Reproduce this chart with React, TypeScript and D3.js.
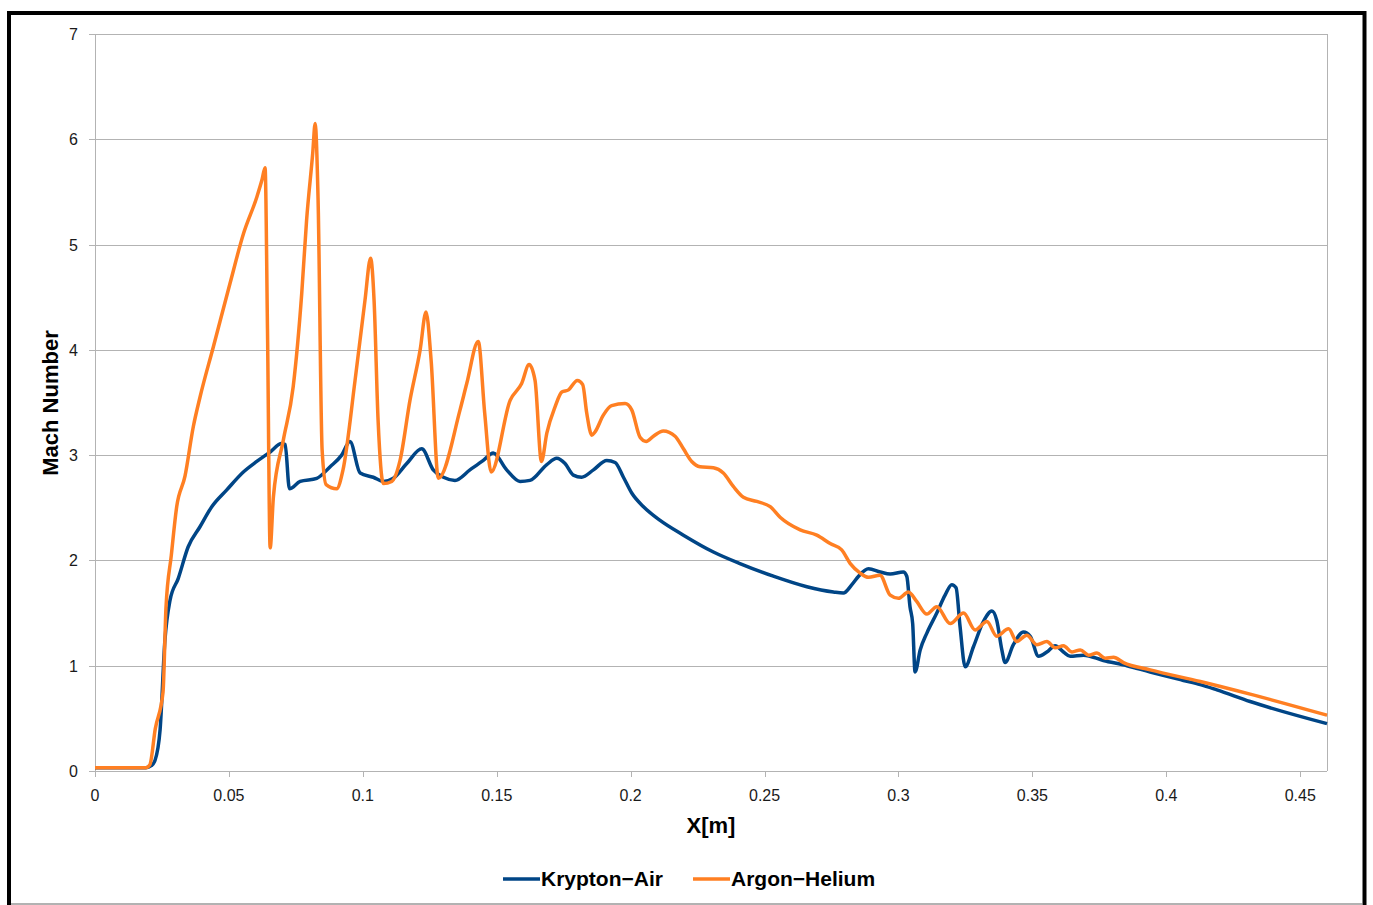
import React, { useRef, useEffect } from "react"
import * as d3 from "d3"

// x [m], Mach number
const kryptonX = [0, 0.01, 0.019, 0.021, 0.0224, 0.0243, 0.0261, 0.028, 0.0311, 0.0348, 0.0392, 0.0436, 0.0492, 0.0554, 0.0604, 0.0654, 0.0697, 0.071, 0.0726, 0.0766, 0.0828, 0.0878, 0.0921, 0.0952, 0.099, 0.1039, 0.1077, 0.1114, 0.1164, 0.122, 0.1263, 0.1301, 0.1344, 0.14, 0.145, 0.1487, 0.1537, 0.1587, 0.1624, 0.1687, 0.1724, 0.1755, 0.1786, 0.1817, 0.1861, 0.1911, 0.1942, 0.1973, 0.2004, 0.2048, 0.211, 0.2197, 0.2309, 0.2408, 0.2533, 0.2658, 0.2757, 0.2794, 0.2826, 0.2851, 0.2888, 0.2932, 0.2969, 0.3018, 0.3031, 0.3043, 0.3053, 0.3062, 0.3081, 0.3106, 0.3143, 0.3174, 0.3199, 0.3215, 0.323, 0.3249, 0.328, 0.3317, 0.3349, 0.3367, 0.3386, 0.3398, 0.3429, 0.3467, 0.3492, 0.3523, 0.3554, 0.3585, 0.3616, 0.3641, 0.3691, 0.3765, 0.3853, 0.394, 0.4064, 0.4127, 0.4189, 0.4313, 0.46]
const kryptonM = [0.03, 0.03, 0.03, 0.05, 0.1, 0.39, 1.24, 1.62, 1.83, 2.13, 2.32, 2.51, 2.67, 2.84, 2.94, 3.03, 3.11, 3.1, 2.68, 2.75, 2.78, 2.89, 3.0, 3.13, 2.83, 2.79, 2.75, 2.78, 2.92, 3.06, 2.86, 2.79, 2.76, 2.86, 2.95, 3.02, 2.86, 2.75, 2.76, 2.91, 2.97, 2.92, 2.81, 2.79, 2.86, 2.95, 2.93, 2.79, 2.64, 2.51, 2.38, 2.24, 2.08, 1.97, 1.85, 1.75, 1.7, 1.69, 1.77, 1.85, 1.92, 1.89, 1.87, 1.89, 1.85, 1.56, 1.4, 0.94, 1.15, 1.31, 1.5, 1.67, 1.77, 1.74, 1.37, 0.99, 1.18, 1.42, 1.52, 1.43, 1.15, 1.03, 1.2, 1.32, 1.28, 1.09, 1.13, 1.19, 1.13, 1.09, 1.1, 1.05, 1.0, 0.94, 0.86, 0.82, 0.77, 0.66, 0.45]

const argonX = [0, 0.01, 0.019, 0.0205, 0.0225, 0.0254, 0.0265, 0.0285, 0.0305, 0.0336, 0.0367, 0.0392, 0.0442, 0.0504, 0.0554, 0.0604, 0.0624, 0.0635, 0.0644, 0.0654, 0.0666, 0.0703, 0.074, 0.0772, 0.079, 0.0813, 0.0822, 0.0833, 0.0848, 0.0863, 0.0902, 0.0926, 0.0971, 0.1008, 0.1029, 0.1042, 0.1057, 0.1077, 0.1108, 0.1139, 0.1176, 0.1214, 0.1236, 0.1255, 0.1282, 0.1363, 0.1388, 0.1431, 0.1455, 0.1479, 0.155, 0.1593, 0.1621, 0.1643, 0.1667, 0.1687, 0.1718, 0.1743, 0.1768, 0.1801, 0.1821, 0.1836, 0.1855, 0.1867, 0.1898, 0.1929, 0.1979, 0.2004, 0.2035, 0.2058, 0.2085, 0.2122, 0.2166, 0.2197, 0.2228, 0.2259, 0.2309, 0.2346, 0.2384, 0.2421, 0.2471, 0.2521, 0.2558, 0.2633, 0.2695, 0.2745, 0.2788, 0.282, 0.2857, 0.2888, 0.2931, 0.2969, 0.3, 0.3037, 0.3068, 0.3106, 0.3143, 0.3193, 0.3243, 0.3286, 0.333, 0.3367, 0.3411, 0.3442, 0.3479, 0.3517, 0.3554, 0.3585, 0.3616, 0.3648, 0.3679, 0.371, 0.3741, 0.3772, 0.3803, 0.384, 0.394, 0.4127, 0.4313, 0.46]
const argonM = [0.03, 0.03, 0.03, 0.06, 0.4, 0.75, 1.55, 2.05, 2.51, 2.8, 3.27, 3.55, 4.03, 4.63, 5.1, 5.45, 5.62, 5.73, 4.2, 2.12, 2.6, 3.14, 3.65, 4.54, 5.23, 5.87, 6.15, 5.42, 3.05, 2.72, 2.68, 2.86, 3.71, 4.47, 4.87, 4.47, 3.33, 2.73, 2.75, 2.95, 3.52, 4.0, 4.36, 3.9, 2.78, 3.43, 3.68, 4.08, 3.4, 2.84, 3.52, 3.68, 3.86, 3.71, 2.94, 3.21, 3.46, 3.6, 3.62, 3.71, 3.67, 3.4, 3.19, 3.22, 3.38, 3.47, 3.49, 3.43, 3.17, 3.13, 3.18, 3.23, 3.18, 3.06, 2.94, 2.89, 2.88, 2.83, 2.7, 2.6, 2.56, 2.51, 2.41, 2.29, 2.24, 2.16, 2.1, 1.97, 1.88, 1.84, 1.86, 1.67, 1.64, 1.7, 1.61, 1.49, 1.56, 1.4, 1.5, 1.34, 1.42, 1.28, 1.35, 1.23, 1.29, 1.2, 1.23, 1.17, 1.19, 1.13, 1.15, 1.1, 1.12, 1.07, 1.08, 1.03, 0.96, 0.85, 0.73, 0.53]

const xTicks = [0, 0.05, 0.1, 0.15, 0.2, 0.25, 0.3, 0.35, 0.4, 0.45]
const yTicks = [0, 1, 2, 3, 4, 5, 6, 7]

const seriesNames = ["Krypton\u2212Air", "Argon\u2212Helium"]
const seriesColors = ["#004586", "#ff7f22"]

const App = () => {
    let element = useRef<SVGSVGElement>(null)

    useEffect(() => {
        let svg = d3.select(element.current)
        svg.selectAll("*").remove()

        let margin = {top: 34, left: 95, right: 46, bottom: 134}
        let width = 1373, height = 905

        let x = d3.scaleLinear().domain([0, 0.46]).range([margin.left, width - margin.right])
        let y = d3.scaleLinear().domain([0, 7]).range([height - margin.bottom, margin.top])

        // outer frame
        svg.append("rect")
            .attr("x", 9).attr("y", 13)
            .attr("width", 1355.5).attr("height", 910)
            .attr("fill", "white")
            .attr("stroke", "black")
            .attr("stroke-width", 4)
        svg.append("line")
            .attr("x1", 11).attr("x2", 1362).attr("y1", 904).attr("y2", 904)
            .attr("stroke", "#999").attr("stroke-width", 1.5)

        // horizontal grid
        svg.append("g")
            .selectAll("line")
            .data(yTicks)
            .join("line")
                .attr("x1", x(0) - 6).attr("x2", x(0.46))
                .attr("y1", d => Math.round(y(d)) + 0.5).attr("y2", d => Math.round(y(d)) + 0.5)
                .attr("stroke", "#b3b3b3")

        // vertical borders of plot area
        svg.append("line")
            .attr("x1", x(0) + 0.5).attr("x2", x(0) + 0.5)
            .attr("y1", y(7)).attr("y2", y(0))
            .attr("stroke", "#b3b3b3")
        svg.append("line")
            .attr("x1", Math.round(x(0.46)) + 0.5).attr("x2", Math.round(x(0.46)) + 0.5)
            .attr("y1", y(7)).attr("y2", y(0))
            .attr("stroke", "#b3b3b3")

        // x ticks
        svg.append("g")
            .selectAll("line")
            .data(xTicks)
            .join("line")
                .attr("x1", d => Math.round(x(d)) + 0.5).attr("x2", d => Math.round(x(d)) + 0.5)
                .attr("y1", y(0)).attr("y2", y(0) + 6)
                .attr("stroke", "#b3b3b3")

        svg.append("g")
            .selectAll("text")
            .data(xTicks)
            .join("text")
                .attr("x", d => x(d))
                .attr("y", y(0) + 30)
                .attr("text-anchor", "middle")
                .attr("font-family", "Liberation Sans, Arial, sans-serif")
                .attr("font-size", 16)
                .attr("fill", "#1a1a1a")
                .text(d => String(d))

        svg.append("g")
            .selectAll("text")
            .data(yTicks)
            .join("text")
                .attr("x", x(0) - 17)
                .attr("y", d => y(d) + 6)
                .attr("text-anchor", "end")
                .attr("font-family", "Liberation Sans, Arial, sans-serif")
                .attr("font-size", 16)
                .attr("fill", "#1a1a1a")
                .text(d => String(d))

        // axis titles
        svg.append("text")
            .attr("x", 711).attr("y", 833)
            .attr("text-anchor", "middle")
            .attr("font-family", "Liberation Sans, Arial, sans-serif")
            .attr("font-size", 22).attr("font-weight", "bold")
            .text("X[m]")
        svg.append("text")
            .attr("transform", "translate(58,403) rotate(-90)")
            .attr("text-anchor", "middle")
            .attr("font-family", "Liberation Sans, Arial, sans-serif")
            .attr("font-size", 22).attr("font-weight", "bold")
            .text("Mach Number")

        // series
        let line = d3.line<[number, number]>()
            .x(d => x(d[0]))
            .y(d => y(d[1]))
            .curve(d3.curveMonotoneX)

        let krypton = kryptonX.map((v, i) => [v, kryptonM[i]] as [number, number])
        let argon = argonX.map((v, i) => [v, argonM[i]] as [number, number])

        ;[krypton, argon].forEach((pts, i) => {
            svg.append("path")
                .datum(pts)
                .attr("d", line)
                .attr("fill", "none")
                .attr("stroke", seriesColors[i])
                .attr("stroke-width", 3.5)
                .attr("stroke-linejoin", "round")
        })

        // legend
        let legendX = [503, 693]
        seriesNames.forEach((name, i) => {
            svg.append("line")
                .attr("x1", legendX[i]).attr("x2", legendX[i] + 37)
                .attr("y1", 879).attr("y2", 879)
                .attr("stroke", seriesColors[i])
                .attr("stroke-width", 3.5)
            svg.append("text")
                .attr("x", legendX[i] + 38).attr("y", 886)
                .attr("font-family", "Liberation Sans, Arial, sans-serif")
                .attr("font-size", 21).attr("font-weight", "bold")
                .text(name)
        })
    })

    return (
        <svg ref={element} width={1373} height={905}
            style={{position: "absolute", left: 0, top: 0, background: "white"}}></svg>
    )
}

export default App
